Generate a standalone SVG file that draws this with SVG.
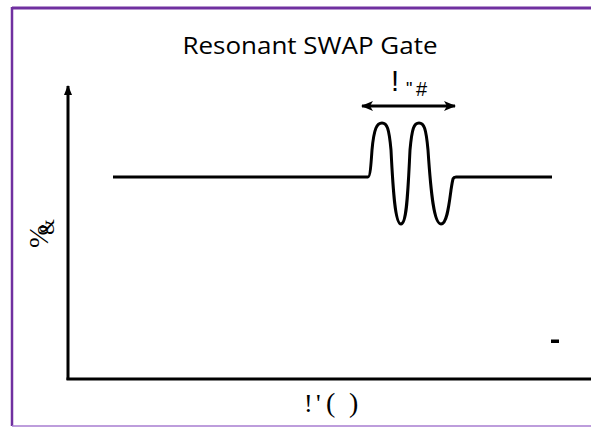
<svg xmlns="http://www.w3.org/2000/svg" width="591" height="427" viewBox="0 0 591 427">
<defs>
<style>
.ax{stroke:#000;stroke-width:3;fill:none}
.sig{stroke:#000;stroke-width:3;fill:none;stroke-linejoin:round}
.serif{font-family:"Liberation Serif","Times New Roman",serif;fill:#000}
.sans{font-family:"Open Sans","Liberation Sans",sans-serif;fill:#000}
.lsans{font-family:"Liberation Sans",Arial,sans-serif;fill:#000}
</style>
<marker id="ah" viewBox="0 0 12 10" refX="11" refY="5" markerWidth="12" markerHeight="10" markerUnits="userSpaceOnUse" orient="auto-start-reverse">
<path d="M0,0 L12,5 L0,10 L3,5 Z" fill="#000"/>
</marker>
<marker id="ya" viewBox="0 0 10 8" refX="9" refY="4" markerWidth="10" markerHeight="8" markerUnits="userSpaceOnUse" orient="auto">
<path d="M0,0 L10,4 L0,8 Z" fill="#000"/>
</marker>
</defs>
<rect width="591" height="427" fill="#fff"/>
<g id="frame">
<line x1="12" y1="8" x2="591" y2="8" stroke="#7030A0" stroke-width="3"/>
<line x1="12" y1="7" x2="12" y2="426" stroke="#7030A0" stroke-width="2.5"/>
<line x1="12" y1="426" x2="591" y2="426" stroke="#A77DD0" stroke-width="1.5"/>
</g>
<g id="title"><text class="sans" x="310" y="54" font-size="23" text-anchor="middle" textLength="255" lengthAdjust="spacingAndGlyphs">Resonant SWAP Gate</text></g>
<g id="connectors">
<line class="ax" x1="68" y1="380" x2="68" y2="86" marker-end="url(#ya)"/>
<line class="ax" x1="66.5" y1="379" x2="591" y2="379"/>
<line class="ax" x1="362" y1="106" x2="455" y2="106" stroke-width="2.5" marker-start="url(#ah)" marker-end="url(#ah)"/>
</g>
<g id="signal">
<path class="sig" d="M113,177 H368 C370,177 371,165 372,150 C374,128 377,123 382,123 C387,123 389,128 391,150 C393,190 395,224 401,224 C407,224 408,190 410,150 C412,128 414,123 419,123 C424,123 426,128 428,150 C431,195 434,224 441,224 C447,224 449,205 451,190 C453,177 453,177 456,177 H552"/>
</g>
<g id="labels">
<text class="lsans" x="391" y="91" font-size="29">!</text>
<text class="lsans" x="406" y="95" font-size="18">"</text>
<text class="lsans" x="416" y="96" font-size="20">#</text>
<text class="serif" y="412" font-size="26"><tspan x="304">!</tspan><tspan x="316">'</tspan><tspan x="326" font-size="28">(</tspan><tspan x="349" font-size="28">)</tspan></text>
<text class="serif" font-size="28" transform="translate(48,248) rotate(-90)">%<tspan dx="-10" dy="6" font-size="20">&amp;</tspan></text>
<rect x="551" y="339.5" width="8" height="3.5" fill="#000"/>
</g>
</svg>
